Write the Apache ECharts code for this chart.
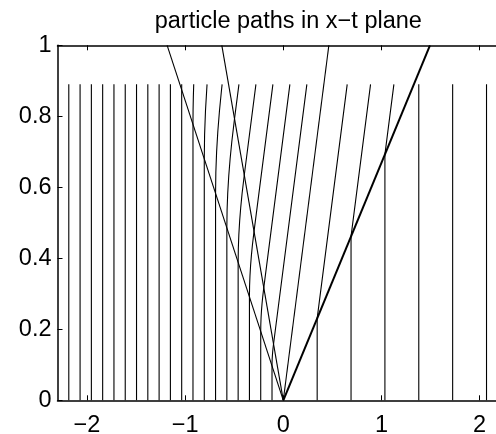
<!DOCTYPE html>
<html>
<head>
<meta charset="utf-8">
<script src="https://cdn.jsdelivr.net/npm/echarts@6/dist/echarts.min.js"></script>
<style>
  html, body { margin: 0; padding: 0; background: #fff; }
  #chart { width: 496px; height: 434px; }
</style>
</head>
<body>
<div id="chart"></div>
<script>
// Sod shock tube: particle paths and wave lines in the x-t plane.

// time at which the particle paths stop
const tEnd = 0.89;

// particles that stay at rest up to tEnd (x at t = 0)
const leftStill = [-1.15, -1.265, -1.38, -1.495, -1.61, -1.725, -1.84, -1.955, -2.07, -2.185];
const rightStill = [1.38, 1.725, 2.07];

// particles overtaken by the rarefaction fan: [x, t] points
const pathL1 = [[-0.115, 0], [-0.115, 0.0972], [-0.1145, 0.1069], [-0.1132, 0.1166], [-0.1111, 0.1264], [-0.1083, 0.1361], [-0.1049, 0.1458], [-0.0994, 0.1587], [0.2400, 0.89]];
const pathL2 = [[-0.23, 0], [-0.23, 0.1944], [-0.2291, 0.2138], [-0.2264, 0.2333], [-0.2223, 0.2527], [-0.2166, 0.2721], [-0.2097, 0.2916], [-0.1987, 0.3173], [0.0671, 0.89]];
const pathL3 = [[-0.345, 0], [-0.345, 0.2916], [-0.3436, 0.3207], [-0.3396, 0.3499], [-0.3334, 0.3791], [-0.3249, 0.4082], [-0.3146, 0.4374], [-0.2981, 0.4760], [-0.1059, 0.89]];
const pathL4 = [[-0.46, 0], [-0.46, 0.3888], [-0.4581, 0.4277], [-0.4529, 0.4665], [-0.4445, 0.5054], [-0.4333, 0.5443], [-0.4195, 0.5832], [-0.3974, 0.6346], [-0.2789, 0.89]];
const pathL5 = [[-0.575, 0], [-0.575, 0.4860], [-0.5727, 0.5346], [-0.5661, 0.5832], [-0.5557, 0.6318], [-0.5416, 0.6804], [-0.5243, 0.7290], [-0.4968, 0.7933], [-0.4519, 0.89]];
const pathL6 = [[-0.69, 0], [-0.69, 0.5832], [-0.6872, 0.6415], [-0.6793, 0.6998], [-0.6668, 0.7581], [-0.6499, 0.8164], [-0.6292, 0.8747], [-0.6232, 0.89]];
const pathL7 = [[-0.805, 0], [-0.805, 0.6804], [-0.8017, 0.7484], [-0.7925, 0.8164], [-0.7779, 0.8845], [-0.7764, 0.89]];
const pathL8 = [[-0.92, 0], [-0.92, 0.7776], [-0.9191, 0.8164], [-0.9163, 0.8553], [-0.9125, 0.89]];
const pathL9 = [[-1.035, 0], [-1.035, 0.8747], [-1.0349, 0.89]];

// particles overtaken by the shock: [x, t] points
const pathR1 = [[0.345, 0], [0.345, 0.2309], [0.6509, 0.89]];
const pathR2 = [[0.69, 0], [0.69, 0.4618], [0.8887, 0.89]];
const pathR3 = [[1.035, 0], [1.035, 0.6928], [1.1265, 0.89]];

// waves leaving the origin: x reached at t = 1
const waveNames = ['rarefaction head', 'rarefaction tail', 'contact', 'shock'];
const waveTopX = [-1.1832, -0.6263, 0.4641, 1.494];

// tick values
const xTicks = [-2, -1, 0, 1, 2];

const movingPaths = [pathL1, pathL2, pathL3, pathL4, pathL5, pathL6, pathL7, pathL8, pathL9, pathR1, pathR2, pathR3];

const font = 'Liberation Sans, Helvetica, Arial, sans-serif';
const ink = '#000';
const labelSize = 23.5;

function pathSeries(name, data, width) {
  return {
    name: name,
    type: 'line',
    data: data,
    symbol: 'none',
    showSymbol: false,
    silent: true,
    animation: false,
    lineStyle: { color: ink, width: width },
    z: 3
  };
}

const series = [];
leftStill.concat(rightStill).forEach(function (x0, i) {
  series.push(pathSeries('still ' + i, [[x0, 0], [x0, tEnd]], 1.1));
});
movingPaths.forEach(function (p, i) {
  series.push(pathSeries('moving ' + i, p, 1.1));
});
waveNames.forEach(function (name, i) {
  series.push(pathSeries(name, [[0, 0], [waveTopX[i], 1]], name === 'shock' ? 2 : 1.1));
});

const minusFmt = function (v) { return v < 0 ? '\u2212' + Math.abs(v) : String(v); };

const tickStyle = { inside: true, length: 5, lineStyle: { color: ink, width: 1 } };
const lineStyle = { color: ink, width: 1.5 };

const chart = echarts.init(document.getElementById('chart'), null, { renderer: 'canvas' });
chart.setOption({
  backgroundColor: '#fff',
  animation: false,
  title: {
    text: 'particle paths in x\u2212t plane',
    left: 283.3,
    top: 5,
    textAlign: 'center',
    textStyle: { color: ink, fontSize: labelSize, fontWeight: 'normal', fontFamily: font }
  },
  grid: { left: 57.5, top: 45.3, width: 451.6, height: 355, containLabel: false, outerBoundsMode: 'none' },
  xAxis: [
    {
      type: 'value', min: -2.3, max: 2.3, position: 'bottom',
      axisLine: { show: true, onZero: false, lineStyle: lineStyle },
      axisTick: Object.assign({ show: true, customValues: xTicks }, tickStyle),
      axisLabel: { customValues: xTicks, formatter: minusFmt, color: ink, fontSize: labelSize, fontFamily: font, margin: 13 },
      splitLine: { show: false }
    },
    {
      type: 'value', min: -2.3, max: 2.3, position: 'top',
      axisLine: { show: true, onZero: false, lineStyle: lineStyle },
      axisTick: Object.assign({ show: true, customValues: xTicks }, tickStyle),
      axisLabel: { show: false },
      splitLine: { show: false }
    }
  ],
  yAxis: [
    {
      type: 'value', min: 0, max: 1, interval: 0.2, position: 'left',
      axisLine: { show: true, onZero: false, lineStyle: lineStyle },
      axisTick: Object.assign({ show: true }, tickStyle),
      axisLabel: { color: ink, fontSize: labelSize, fontFamily: font, margin: 6 },
      splitLine: { show: false }
    },
    {
      type: 'value', min: 0, max: 1, interval: 0.2, position: 'right',
      axisLine: { show: true, onZero: false, lineStyle: lineStyle },
      axisTick: Object.assign({ show: true }, tickStyle),
      axisLabel: { show: false },
      splitLine: { show: false }
    }
  ],
  series: series
});
</script>
</body>
</html>
